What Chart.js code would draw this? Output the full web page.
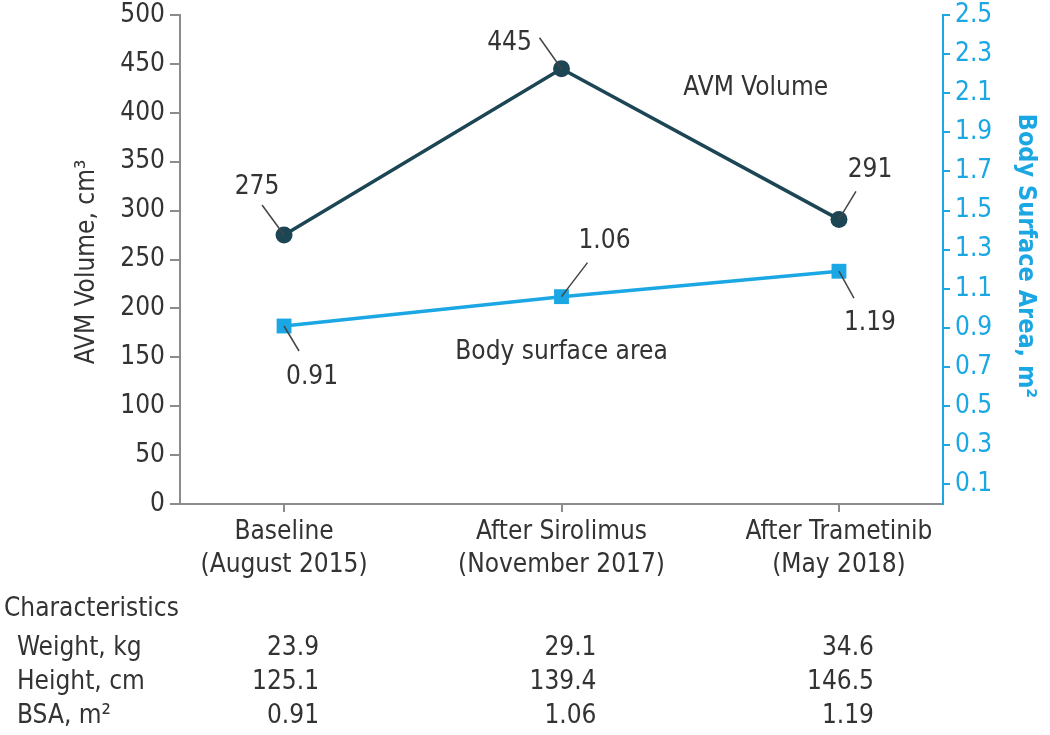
<!DOCTYPE html>
<html>
<head>
<meta charset="utf-8">
<script src="https://cdn.jsdelivr.net/npm/chart.js@4.4.0/dist/chart.umd.min.js"></script>
<style>
  html, body { margin: 0; padding: 0; background: #fff; }
  #wrap { width: 1050px; height: 735px; }
</style>
</head>
<body>
<div id="wrap"><canvas id="avmChart" width="1050" height="735"></canvas></div>
<script>
// data
const categories = [['Baseline', '(August 2015)'], ['After Sirolimus', '(November 2017)'], ['After Trametinib', '(May 2018)']];
const avmVolume = [275, 445, 291];
const bodySurface = [0.91, 1.06, 1.19];
const volumeTicks = [0, 50, 100, 150, 200, 250, 300, 350, 400, 450, 500];
const bsaTicks = [0.1, 0.3, 0.5, 0.7, 0.9, 1.1, 1.3, 1.5, 1.7, 1.9, 2.1, 2.3, 2.5];
const rowNames = ['Weight, kg', 'Height, cm', 'BSA, m²'];
const weightKg = ['23.9', '29.1', '34.6'];
const heightCm = ['125.1', '139.4', '146.5'];
const bsaM2 = ['0.91', '1.06', '1.19'];

const dark = '#1d4654';
const cyan = '#1aa7e4';
const txt = '#333333';
const axisGrey = '#8c8c8c';
const FONT = '"DejaVu Sans Condensed", "Liberation Sans Narrow", "Liberation Sans", sans-serif';
const FS = 26;

// leader line end + text centre, relative to the point
const avmLabelPos = [[-22, -30, -27, -48], [-22, -31, -52, -26], [17, -28, 31, -49]];
const bsaLabelPos = [[15, 25, 28, 51], [26, -34, 43, -55], [15, 27, 31, 52]];

const annotate = {
  id: 'annotate',
  afterDraw(chart) {
    const ctx = chart.ctx;
    const x = chart.scales.x, yl = chart.scales.y;
    ctx.save();
    ctx.font = FS + 'px ' + FONT;
    ctx.fillStyle = txt;
    ctx.textAlign = 'center';
    ctx.textBaseline = 'middle';

    const doLabels = (metaIdx, vals, pos) => {
      const meta = chart.getDatasetMeta(metaIdx);
      meta.data.forEach((p, i) => {
        const o = pos[i];
        ctx.strokeStyle = '#444';
        ctx.lineWidth = 1.5;
        ctx.beginPath();
        ctx.moveTo(p.x, p.y);
        ctx.lineTo(p.x + o[0], p.y + o[1]);
        ctx.stroke();
        ctx.fillText(String(vals[i]), p.x + o[2], p.y + o[3]);
      });
    };
    doLabels(0, avmVolume, avmLabelPos);
    doLabels(1, bodySurface.map(v => v.toFixed(2)), bsaLabelPos);

    // series names
    ctx.fillText('AVM Volume', x.getPixelForValue(1.7), yl.getPixelForValue(425));
    ctx.fillText('Body surface area', x.getPixelForValue(1.0), yl.getPixelForValue(155));

    // axis titles
    ctx.save();
    ctx.translate(87, 262);
    ctx.rotate(-Math.PI / 2);
    ctx.fillText('AVM Volume, cm³', 0, 0);
    ctx.restore();

    ctx.save();
    ctx.translate(1025, 256);
    ctx.rotate(Math.PI / 2);
    ctx.fillStyle = cyan;
    ctx.font = 'bold 25px ' + FONT;
    ctx.fillText('Body Surface Area, m²', 0, 0);
    ctx.restore();

    // characteristics table
    ctx.textAlign = 'left';
    ctx.fillText('Characteristics', 4, 609);
    const rows = [weightKg, heightCm, bsaM2];
    const rowY = [648, 682, 716];
    rows.forEach((r, ri) => {
      ctx.textAlign = 'left';
      ctx.fillText(rowNames[ri], 17, rowY[ri]);
      ctx.textAlign = 'right';
      r.forEach((v, ci) => {
        ctx.fillText(v, x.getPixelForValue(ci) + 35, rowY[ri]);
      });
    });
    ctx.restore();
  }
};

new Chart(document.getElementById('avmChart'), {
  type: 'line',
  data: {
    datasets: [
      {
        label: 'AVM Volume',
        data: avmVolume.map((v, i) => ({ x: i, y: v })),
        yAxisID: 'y',
        borderColor: dark,
        backgroundColor: dark,
        borderWidth: 3.5,
        pointRadius: 8.5,
        pointStyle: 'circle',
        pointBorderWidth: 0
      },
      {
        label: 'Body surface area',
        data: bodySurface.map((v, i) => ({ x: i, y: v })),
        yAxisID: 'y1',
        borderColor: cyan,
        backgroundColor: cyan,
        borderWidth: 3.5,
        pointRadius: 10.5,
        pointStyle: 'rect',
        pointBorderWidth: 0
      }
    ]
  },
  options: {
    responsive: false,
    animation: false,
    layout: { padding: 0 },
    plugins: { legend: { display: false }, tooltip: { enabled: false } },
    scales: {
      x: {
        type: 'linear',
        min: -0.375,
        max: 2.375,
        afterBuildTicks: s => { s.ticks = categories.map((c, i) => ({ value: i })); },
        afterFit: s => { s.height = 735 - 504; },
        ticks: {
          callback: v => categories[v],
          color: txt,
          font: { family: FONT, size: FS, lineHeight: 1.27 },
          padding: 4,
          maxRotation: 0,
          autoSkip: false
        },
        grid: { drawOnChartArea: false, tickLength: 8, color: axisGrey, lineWidth: 2 },
        border: { color: axisGrey, width: 2 }
      },
      y: {
        position: 'left',
        min: 0,
        max: 500,
        afterBuildTicks: s => { s.ticks = volumeTicks.map(v => ({ value: v })); },
        afterFit: s => { s.width = 180; s.paddingTop = 15; },
        ticks: { color: txt, font: { family: FONT, size: FS, lineHeight: 0.75 }, padding: 5 },
        grid: { drawOnChartArea: false, tickLength: 10, color: axisGrey, lineWidth: 2 },
        border: { color: axisGrey, width: 2 }
      },
      y1: {
        position: 'right',
        min: 0,
        max: 2.5,
        afterBuildTicks: s => { s.ticks = bsaTicks.map(v => ({ value: v })); },
        afterFit: s => { s.width = 1050 - 943; s.paddingTop = 15; },
        ticks: { color: cyan, font: { family: FONT, size: FS, lineHeight: 0.75 }, padding: 5, callback: v => v.toFixed(1) },
        grid: { drawOnChartArea: false, tickLength: 7, color: cyan, lineWidth: 2 },
        border: { color: cyan, width: 2 }
      }
    }
  },
  plugins: [annotate]
});
</script>
</body>
</html>
